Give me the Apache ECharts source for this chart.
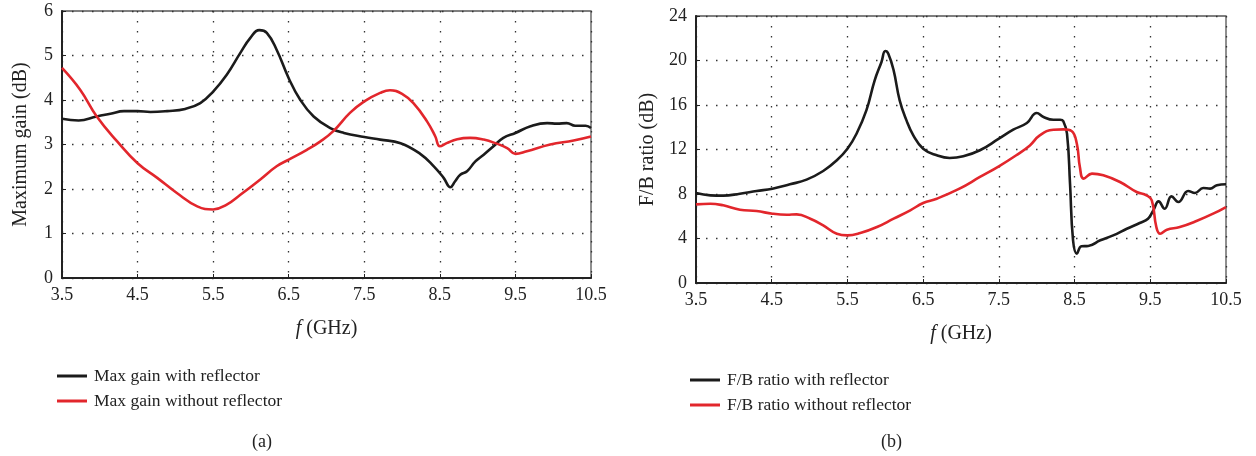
<!DOCTYPE html>
<html>
<head>
<meta charset="utf-8">
<script src="https://cdn.jsdelivr.net/npm/echarts@6/dist/echarts.min.js"></script>
<style>
html,body{margin:0;padding:0;background:#fff;}
#chart{width:1256px;height:456px;}
</style>
</head>
<body>
<div id="chart"></div>
<script>
// ---- Data ----
const xTickLabels = ['3.5','4.5','5.5','6.5','7.5','8.5','9.5','10.5'];
const gainTicks = [0,1,2,3,4,5,6];
const fbTicks = [0,4,8,12,16,20,24];

const gainWithF  = [3.5,3.72,3.96,4.14,4.32,4.5,4.67,4.89,5.13,5.33,5.5,5.68,5.86,5.99,6.11,6.21,6.34,6.5,6.65,6.83,7.05,7.23,7.5,7.71,7.98,8.24,8.42,8.55,8.64,8.7,8.77,8.86,8.97,9.08,9.21,9.34,9.5,9.7,9.92,10.05,10.18,10.29,10.43,10.5];
const gainWithDb = [3.58,3.54,3.63,3.69,3.75,3.75,3.73,3.75,3.80,3.93,4.19,4.57,5.06,5.39,5.57,5.51,5.13,4.49,4.01,3.63,3.37,3.26,3.17,3.11,3.03,2.79,2.51,2.25,2.04,2.17,2.32,2.40,2.62,2.77,2.96,3.15,3.26,3.41,3.48,3.47,3.48,3.42,3.42,3.37];

const gainWithoutF  = [3.5,3.74,3.96,4.23,4.5,4.76,5.02,5.29,5.5,5.68,5.86,6.12,6.34,6.5,6.74,6.92,7.09,7.31,7.5,7.71,7.84,8.0,8.15,8.33,8.44,8.5,8.59,8.73,8.9,9.08,9.25,9.39,9.5,9.65,9.96,10.27,10.5];
const gainWithoutDb = [4.72,4.23,3.63,3.07,2.58,2.25,1.91,1.61,1.54,1.65,1.87,2.21,2.51,2.66,2.88,3.07,3.30,3.71,3.97,4.16,4.22,4.14,3.93,3.52,3.18,2.96,3.03,3.12,3.15,3.11,3.02,2.92,2.79,2.85,3.0,3.09,3.18];

const fbWithF  = [3.5,3.69,3.86,4.08,4.3,4.51,4.74,4.96,5.18,5.36,5.5,5.62,5.75,5.86,5.95,6.0,6.04,6.11,6.19,6.28,6.37,6.5,6.68,6.85,7.03,7.25,7.5,7.69,7.87,8.0,8.09,8.22,8.31,8.35,8.40,8.44,8.48,8.53,8.59,8.68,8.84,9.01,9.19,9.36,9.47,9.54,9.61,9.69,9.78,9.87,10.0,10.09,10.2,10.29,10.38,10.5];
const fbWithDb = [8.09,7.88,7.85,8.03,8.27,8.48,8.87,9.29,10.07,11.03,12.07,13.42,15.52,18.22,19.87,20.85,20.61,19.12,16.42,14.62,13.27,12.07,11.48,11.24,11.39,11.93,12.97,13.78,14.38,15.28,14.92,14.68,14.68,14.56,13.42,8.93,3.84,2.64,3.30,3.33,3.84,4.28,4.88,5.39,5.78,6.53,7.34,6.68,7.79,7.28,8.27,8.09,8.54,8.48,8.78,8.87];

const fbWithoutF  = [3.5,3.69,3.86,4.08,4.3,4.51,4.70,4.83,5.01,5.18,5.36,5.5,5.67,5.89,6.11,6.33,6.5,6.68,6.98,7.25,7.5,7.73,7.91,8.04,8.22,8.35,8.46,8.53,8.57,8.62,8.73,8.88,9.1,9.32,9.45,9.52,9.58,9.63,9.72,9.89,10.11,10.33,10.5];
const fbWithoutDb = [7.07,7.13,6.98,6.59,6.47,6.23,6.14,6.17,5.78,5.18,4.43,4.28,4.49,5.03,5.78,6.53,7.19,7.58,8.48,9.53,10.49,11.48,12.37,13.27,13.78,13.81,13.66,12.52,10.43,9.38,9.83,9.68,9.08,8.18,7.88,7.43,5.03,4.43,4.79,5.03,5.57,6.23,6.83];

const seriesNames = ['Max gain with reflector','Max gain without reflector','F/B ratio with reflector','F/B ratio without reflector'];
const colorBlack = '#1b1b1b';
const colorRed = '#e2262c';

// ---- Build options ----
const X0 = 3.5; // axis offset so ticks start at 3.5
function pairs(fs, vs){ return fs.map((f,i)=>[f - X0, vs[i]]); }
const FONT = '"Liberation Serif","DejaVu Serif",serif';
const txt = '#222';

function xAxisFor(gi){
  return {
    type:'value', gridIndex:gi, min:0, max:7, interval:1,
    name:'{i|f} (GHz)', nameLocation:'middle', nameGap:41,
    nameTextStyle:{fontFamily:FONT,fontSize:20,color:txt,
      rich:{i:{fontFamily:FONT,fontSize:20,fontStyle:'italic',color:txt}}},
    axisLine:{show:true,onZero:false,lineStyle:{color:'#222',width:2}},
    axisTick:{show:true,inside:true,length:4,lineStyle:{color:'#222'}},
    axisLabel:{fontFamily:FONT,fontSize:18,color:txt,margin:8,
      formatter:(v)=>xTickLabels[Math.round(v)]},
    splitLine:{show:true,lineStyle:{color:'#333',width:1.3,type:[1.5,8.5]}}
  };
}
function yAxisFor(gi, max, interval, name, gap){
  return {
    type:'value', gridIndex:gi, min:0, max:max, interval:interval,
    name:name, nameLocation:'middle', nameGap:gap,
    nameTextStyle:{fontFamily:FONT,fontSize:20,color:txt},
    axisLine:{show:true,lineStyle:{color:'#222',width:2}},
    axisTick:{show:true,inside:true,length:4,lineStyle:{color:'#222'}},
    axisLabel:{fontFamily:FONT,fontSize:18,color:txt,margin:9},
    splitLine:{show:true,lineStyle:{color:'#333',width:1.3,type:[1.5,8.5]}}
  };
}
function line(name, gi, data, color){
  return {name:name,type:'line',xAxisIndex:gi,yAxisIndex:gi,data:data,
    symbol:'none',smooth:0.45,
    lineStyle:{color:color,width:2.6},itemStyle:{color:color},
    animation:false};
}
function legendFor(names,left,top){
  return {data:names,orient:'vertical',left:left,top:top,
    icon:'rect',itemWidth:30,itemHeight:3,itemGap:7,
    textStyle:{fontFamily:FONT,fontSize:17.5,color:txt,lineHeight:18,padding:[0,0,0,2]},
    selectedMode:false};
}

const option = {
  backgroundColor:'#fff',
  animation:false,
  grid:[
    {left:62,top:11,width:529,height:267,show:true,borderColor:'#555',borderWidth:1.3},
    {left:696,top:16,width:530,height:267,show:true,borderColor:'#555',borderWidth:1.3}
  ],
  xAxis:[xAxisFor(0), xAxisFor(1)],
  yAxis:[yAxisFor(0,6,1,'Maximum gain (dB)',31), yAxisFor(1,24,4,'F/B ratio (dB)',38)],
  legend:[
    legendFor([seriesNames[0],seriesNames[1]],52,362),
    legendFor([seriesNames[2],seriesNames[3]],685,366)
  ],
  title:[
    {text:'(a)',left:247,top:428,textStyle:{fontFamily:FONT,fontSize:18,fontWeight:'normal',color:txt}},
    {text:'(b)',left:876,top:428,textStyle:{fontFamily:FONT,fontSize:18,fontWeight:'normal',color:txt}}
  ],
  series:[
    line(seriesNames[0],0,pairs(gainWithF,gainWithDb),colorBlack),
    line(seriesNames[1],0,pairs(gainWithoutF,gainWithoutDb),colorRed),
    line(seriesNames[2],1,pairs(fbWithF,fbWithDb),colorBlack),
    line(seriesNames[3],1,pairs(fbWithoutF,fbWithoutDb),colorRed)
  ]
};
const chart = echarts.init(document.getElementById('chart'),null,{renderer:'canvas'});
chart.setOption(option);
</script>
</body>
</html>
